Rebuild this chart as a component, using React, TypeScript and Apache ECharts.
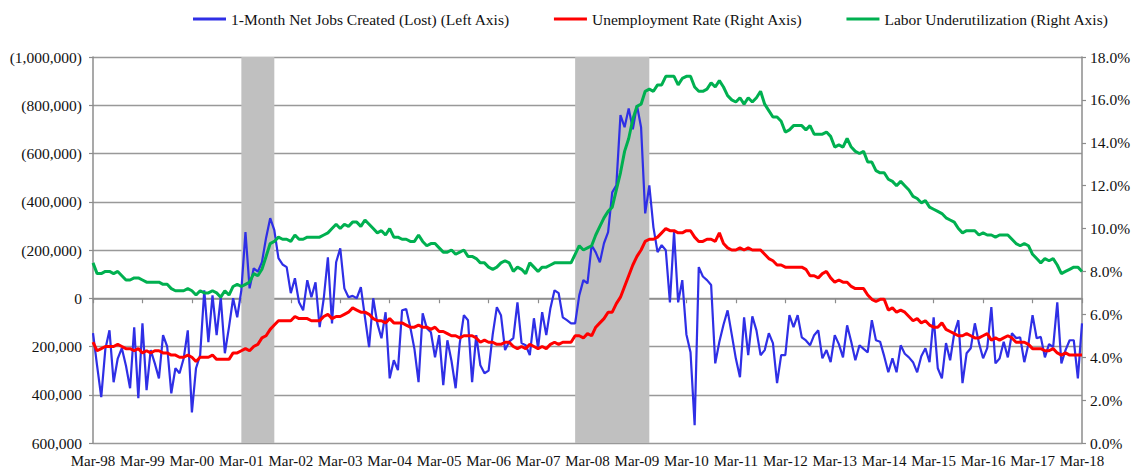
import React, { useEffect, useRef } from "react";
import * as echarts from "echarts";

const MONTHS = ["Jan", "Feb", "Mar", "Apr", "May", "Jun", "Jul", "Aug", "Sep", "Oct", "Nov", "Dec"];
const START_YEAR = 1998;
const START_MONTH = 2; // March
const N_POINTS = 241; // Mar-98 .. Mar-18

const categories: string[] = [];
for (let i = 0; i < N_POINTS; i++) {
  const m = (START_MONTH + i) % 12;
  const y = START_YEAR + Math.floor((START_MONTH + i) / 12);
  categories.push(MONTHS[m] + "-" + String(y % 100).padStart(2, "0"));
}

// 1-month net jobs created (lost), thousands
const jobsK = [
  145, 280, 410, 210, 133, 348, 250, 207, 280, 373,
  120, 414, 104, 381, 215, 270, 332, 153, 200, 394, 290, 311,
  250, 133, 473, 290, 236, -33, 182, -12, 153, -4, 228, 120,
  0, 79, -33, -274, -41, -124, -110, -150, -250, -332, -282, -166,
  -140, -129, -21, -83, 17, 50, -75, -4, -66, 120, 0, -170,
  104, -149, -207, -41, -4, -10, 0, -46, 79, 203, 0, 104,
  166, 58, 332, 257, 298, 50, 45, 120, 210, 348, 62, 124,
  141, 245, 153, 360, 174, 260, 373, 186, 70, 91, 348, 153,
  278, 311, 300, 150, 37, 70, 215, 180, 165, 17, 186, 195,
  236, 83, 207, 58, 153, 41, -33, -21, 79, 91, 104, 104,
  -12, -75, -62, -220, -190, -149, -228, -274, -439, -468, -759, -709,
  -787, -700, -800, -709, -352, -468, -294, -191, -220, -199, 17, -274,
  17, -75, 150, 224, 526, -129, -90, -75, -55, 270, 180, 110,
  50, 150, 250, 327, 79, 236, 75, 133, 236, 215, 145, 186,
  352, 236, 236, 70, 120, 70, 162, 175, 195, 153, 133, 249,
  215, 265, 153, 190, 245, 112, 180, 257, 195, 210, 224, 91,
  174, 180, 240, 307, 249, 307, 195, 230, 245, 265, 307, 240,
  207, 265, 79, 290, 332, 186, 257, 145, 91, 352, 228, 207,
  104, 186, 249, 207, 37, 270, 250, 180, 245, 145, 165, 162,
  265, 190, 70, 166, 160, 245, 190, 203, 17, 270, 215, 174,
  174, 332, 104,
];

// Unemployment rate (%)
const unemployment = [
  4.7, 4.3, 4.4, 4.5, 4.5, 4.5, 4.6, 4.5, 4.4, 4.4,
  4.3, 4.4, 4.2, 4.3, 4.2, 4.3, 4.3, 4.2, 4.2, 4.1, 4.1, 4.0,
  4.0, 4.1, 4.0, 3.8, 4.0, 4.0, 4.0, 4.1, 3.9, 3.9, 3.9, 3.9,
  4.2, 4.2, 4.3, 4.4, 4.3, 4.5, 4.6, 4.9, 5.0, 5.3, 5.5, 5.7,
  5.7, 5.7, 5.7, 5.9, 5.8, 5.8, 5.8, 5.7, 5.7, 5.7, 5.9, 6.0,
  5.8, 5.9, 5.9, 6.0, 6.1, 6.3, 6.2, 6.1, 6.1, 6.0, 5.8, 5.7,
  5.7, 5.6, 5.8, 5.6, 5.6, 5.6, 5.5, 5.4, 5.4, 5.5, 5.4, 5.4,
  5.3, 5.4, 5.2, 5.2, 5.1, 5.0, 5.0, 4.9, 5.0, 5.0, 5.0, 4.9,
  4.7, 4.8, 4.7, 4.7, 4.6, 4.6, 4.7, 4.7, 4.5, 4.4, 4.5, 4.4,
  4.6, 4.5, 4.4, 4.5, 4.4, 4.6, 4.7, 4.6, 4.7, 4.7, 4.7, 5.0,
  5.0, 4.9, 5.1, 5.0, 5.4, 5.6, 5.8, 6.1, 6.1, 6.5, 6.8, 7.3,
  7.8, 8.3, 8.7, 9.0, 9.4, 9.5, 9.5, 9.6, 9.8, 10.0, 9.9, 9.9,
  9.8, 9.8, 9.9, 9.9, 9.6, 9.4, 9.4, 9.5, 9.5, 9.4, 9.8, 9.3,
  9.1, 9.0, 9.0, 9.1, 9.0, 9.1, 9.0, 9.0, 9.0, 8.8, 8.6, 8.5,
  8.3, 8.3, 8.2, 8.2, 8.2, 8.2, 8.2, 8.1, 7.8, 7.8, 7.7, 7.9,
  8.0, 7.7, 7.5, 7.6, 7.5, 7.5, 7.3, 7.2, 7.2, 7.2, 6.9, 6.7,
  6.6, 6.7, 6.7, 6.2, 6.3, 6.1, 6.2, 6.1, 5.9, 5.7, 5.8, 5.6,
  5.7, 5.5, 5.4, 5.4, 5.6, 5.3, 5.2, 5.1, 5.0, 5.0, 5.1, 5.0,
  4.9, 4.9, 5.0, 5.1, 4.8, 4.9, 4.8, 4.9, 5.0, 4.9, 4.7, 4.7,
  4.7, 4.6, 4.4, 4.4, 4.4, 4.3, 4.3, 4.4, 4.2, 4.1, 4.2, 4.1,
  4.1, 4.1, 4.1,
];

// Labor underutilization (%)
const underutilization = [
  8.4, 7.9, 7.9, 8.0, 8.0, 7.9, 8.0, 7.8, 7.6, 7.6,
  7.7, 7.7, 7.6, 7.5, 7.5, 7.5, 7.5, 7.4, 7.4, 7.2, 7.1, 7.1,
  7.1, 7.2, 7.1, 6.9, 7.1, 7.0, 7.0, 7.1, 7.0, 6.8, 7.1, 6.9,
  7.3, 7.4, 7.3, 7.4, 7.5, 7.9, 7.8, 8.1, 8.7, 9.3, 9.4, 9.6,
  9.5, 9.5, 9.4, 9.7, 9.5, 9.5, 9.6, 9.6, 9.6, 9.6, 9.7, 9.8,
  10.0, 10.2, 10.0, 10.2, 10.1, 10.3, 10.3, 10.1, 10.4, 10.2, 10.0, 9.8,
  9.9, 9.7, 10.0, 9.6, 9.6, 9.5, 9.5, 9.4, 9.4, 9.7, 9.4, 9.2,
  9.3, 9.3, 9.1, 8.9, 8.9, 9.0, 8.8, 8.9, 9.0, 8.7, 8.7, 8.6,
  8.4, 8.4, 8.2, 8.1, 8.2, 8.4, 8.5, 8.4, 8.0, 8.2, 8.1, 7.9,
  8.4, 8.2, 8.0, 8.2, 8.2, 8.3, 8.4, 8.4, 8.4, 8.4, 8.4, 8.8,
  9.2, 9.0, 9.1, 9.2, 9.7, 10.1, 10.5, 10.8, 11.0, 11.8, 12.6, 13.6,
  14.2, 15.1, 15.7, 15.8, 16.4, 16.5, 16.4, 16.7, 16.7, 17.1, 17.1, 17.1,
  16.7, 17.0, 17.1, 17.1, 16.6, 16.4, 16.4, 16.5, 16.8, 16.6, 16.9, 16.6,
  16.2, 16.0, 15.9, 16.1, 15.8, 16.1, 15.9, 16.1, 16.4, 15.8, 15.5, 15.2,
  15.2, 15.0, 14.5, 14.6, 14.8, 14.8, 14.8, 14.6, 14.8, 14.4, 14.4, 14.4,
  14.5, 14.3, 13.8, 13.9, 13.8, 14.2, 13.8, 13.6, 13.5, 13.6, 13.1, 13.1,
  12.7, 12.6, 12.6, 12.3, 12.2, 12.0, 12.2, 12.0, 11.8, 11.5, 11.4, 11.2,
  11.3, 11.0, 10.9, 10.8, 10.7, 10.5, 10.4, 10.3, 10.0, 9.8, 9.9, 9.9,
  9.9, 9.7, 9.8, 9.7, 9.7, 9.6, 9.7, 9.7, 9.7, 9.5, 9.3, 9.2,
  9.3, 9.2, 8.8, 8.6, 8.4, 8.6, 8.5, 8.6, 8.3, 7.9, 8.0, 8.1,
  8.2, 8.2, 8.0,
];

const recessions: [string, string][] = [
  ["Mar-01", "Nov-01"],
  ["Dec-07", "Jun-09"],
];

const FONT = "Liberation Serif";

function fmtJobs(v: number): string {
  if (v === 0) return "0";
  const s = Math.abs(v).toLocaleString("en-US");
  return v < 0 ? "(" + s + ")" : s;
}

export default function App() {
  const ref = useRef<HTMLDivElement>(null);
  useEffect(() => {
    if (!ref.current) return;
    const chart = echarts.init(ref.current, undefined, { renderer: "svg" });
    const axisGray = "#8c8c8c";
    chart.setOption({
      animation: false,
      backgroundColor: "#ffffff",
      textStyle: { fontFamily: FONT },
      legend: {
        top: 6,
        left: 188,
        itemWidth: 33,
        itemHeight: 3,
        itemGap: 44,
        icon: "rect",
        textStyle: { fontFamily: FONT, fontSize: 15.5, color: "#111" },
        data: [
          "1-Month Net Jobs Created (Lost) (Left Axis)",
          "Unemployment Rate (Right Axis)",
          "Labor Underutilization (Right Axis)",
        ],
      },
      grid: { left: 93, right: 61, top: 57, bottom: 31, containLabel: false },
      xAxis: {
        type: "category",
        data: categories,
        boundaryGap: false,
        axisLine: { lineStyle: { color: axisGray, width: 1.5 } },
        axisTick: { interval: 11, length: 5, lineStyle: { color: axisGray, width: 1.2 } },
        axisLabel: {
          interval: 11,
          margin: 10,
          fontFamily: FONT,
          fontSize: 15,
          color: "#111",
        },
        splitLine: { show: false },
      },
      yAxis: [
        {
          type: "value",
          inverse: true,
          min: -1000000,
          max: 600000,
          interval: 200000,
          position: "left",
          axisLine: { show: true, lineStyle: { color: axisGray, width: 1.5 } },
          axisTick: { show: true, length: 4, lineStyle: { color: axisGray, width: 1.2 } },
          axisLabel: {
            formatter: fmtJobs,
            margin: 11,
            fontFamily: FONT,
            fontSize: 15.5,
            color: "#111",
          },
          splitLine: { show: true, lineStyle: { color: "#999999", width: 1.4 } },
        },
        {
          type: "value",
          min: 0,
          max: 18,
          interval: 2,
          position: "right",
          axisLine: { show: true, lineStyle: { color: axisGray, width: 1.5 } },
          axisTick: { show: true, length: 4, lineStyle: { color: axisGray, width: 1.2 } },
          axisLabel: {
            formatter: (v: number) => v.toFixed(1) + "%",
            margin: 8,
            fontFamily: FONT,
            fontSize: 15.5,
            color: "#111",
          },
          splitLine: { show: false },
        },
      ],
      series: [
        {
          name: "1-Month Net Jobs Created (Lost) (Left Axis)",
          type: "line",
          yAxisIndex: 0,
          data: jobsK.map((v) => v * 1000),
          symbol: "none",
          color: "#2f2fe6",
          lineStyle: { width: 2.2, color: "#2f2fe6" },
          z: 2,
          markArea: {
            silent: true,
            itemStyle: { color: "#c0c0c0" },
            data: recessions.map(([a, b]) => [{ xAxis: a }, { xAxis: b }]),
          },
        },
        {
          name: "Unemployment Rate (Right Axis)",
          type: "line",
          yAxisIndex: 1,
          data: unemployment,
          symbol: "none",
          color: "#ff0000",
          lineStyle: { width: 3, color: "#ff0000" },
          z: 3,
        },
        {
          name: "Labor Underutilization (Right Axis)",
          type: "line",
          yAxisIndex: 1,
          data: underutilization,
          symbol: "none",
          color: "#00b050",
          lineStyle: { width: 3, color: "#00b050" },
          z: 3,
        },
      ],
    });
    return () => chart.dispose();
  }, []);
  return (
    <div
      ref={ref}
      style={{ position: "absolute", left: 0, top: 0, width: 1143, height: 474 }}
    />
  );
}
